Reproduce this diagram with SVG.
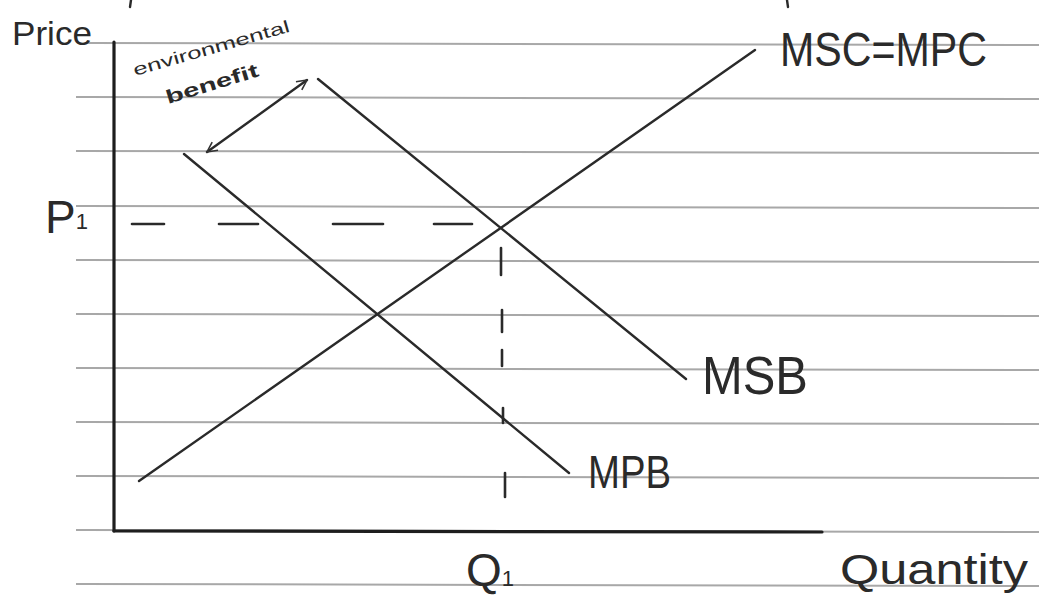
<svg xmlns="http://www.w3.org/2000/svg" width="1039" height="598" viewBox="0 0 1039 598">
<style>
.rule{stroke:#a8a8a8;stroke-width:2;fill:none}
.axis{stroke:#1e1e1e;stroke-width:3.2;fill:none;stroke-linecap:round}
.curve{stroke:#2a2a2a;stroke-width:2.4;fill:none;stroke-linecap:round}
.dash{stroke:#2a2a2a;stroke-width:2.6;fill:none;stroke-linecap:round}
.lbl{font-family:"Liberation Sans","DejaVu Sans",sans-serif;fill:#2a2a2a}
</style>
<defs>
<marker id="vh" viewBox="0 0 12 12" refX="11" refY="6" markerWidth="12" markerHeight="12" markerUnits="userSpaceOnUse" orient="auto-start-reverse">
<path d="M1,1 L11,6 L1,11" fill="none" stroke="#333" stroke-width="1.6"/>
</marker>
</defs>
<rect width="1039" height="598" fill="#ffffff"/>
<g id="paper">
<line class="rule" x1="86" y1="43" x2="1039" y2="45"/>
<line class="rule" x1="76" y1="97" x2="1039" y2="99"/>
<line class="rule" x1="76" y1="151" x2="1039" y2="153"/>
<line class="rule" x1="76" y1="206" x2="1039" y2="208"/>
<line class="rule" x1="76" y1="260" x2="1039" y2="262"/>
<line class="rule" x1="76" y1="314" x2="1039" y2="316"/>
<line class="rule" x1="76" y1="368" x2="1039" y2="370"/>
<line class="rule" x1="76" y1="422" x2="1039" y2="424"/>
<line class="rule" x1="76" y1="476" x2="1039" y2="478"/>
<line class="rule" x1="76" y1="530" x2="1039" y2="532"/>
<line class="rule" x1="76" y1="584" x2="1039" y2="586"/>
<line class="curve" x1="131" y1="0" x2="130" y2="7"/>
<line class="curve" x1="787" y1="0" x2="788" y2="7"/>
</g>
<g id="axes">
<line class="axis" x1="114" y1="42" x2="114" y2="531"/>
<line class="axis" x1="114" y1="531" x2="822" y2="532"/>
</g>
<g id="curve-msc">
<line class="curve" x1="139" y1="481" x2="755" y2="50"/>
</g>
<g id="curve-msb">
<line class="curve" x1="318" y1="79" x2="686" y2="379"/>
</g>
<g id="curve-mpb">
<line class="curve" x1="184" y1="154" x2="569" y2="473"/>
</g>
<g id="guides">
<line class="dash" x1="132" y1="224" x2="164" y2="224"/>
<line class="dash" x1="219" y1="224" x2="258" y2="224"/>
<line class="dash" x1="333" y1="224" x2="383" y2="224"/>
<line class="dash" x1="434" y1="224" x2="472" y2="224"/>
<line class="dash" x1="501" y1="248" x2="501" y2="275"/>
<line class="dash" x1="502" y1="310" x2="502" y2="332"/>
<line class="dash" x1="502" y1="350" x2="502" y2="366"/>
<line class="dash" x1="503" y1="408" x2="503" y2="423"/>
<line class="dash" x1="505" y1="473" x2="505" y2="497"/>
</g>
<g id="connectors">
<line class="curve" stroke-width="1.8" x1="207" y1="152" x2="307" y2="80" marker-start="url(#vh)" marker-end="url(#vh)"/>
</g>
<g id="label-price"><text class="lbl" x="12" y="45" font-size="33" textLength="80" lengthAdjust="spacingAndGlyphs">Price</text></g>
<g id="label-benefit">
<text class="lbl" font-size="17" transform="translate(135,76) rotate(-16)" textLength="162" lengthAdjust="spacingAndGlyphs">environmental</text>
<text class="lbl" font-size="19" font-weight="bold" transform="translate(168,104) rotate(-17)" textLength="96" lengthAdjust="spacingAndGlyphs">benefit</text>
</g>
<g id="label-msc"><text class="lbl" x="780" y="66" font-size="48" textLength="207" lengthAdjust="spacingAndGlyphs">MSC=MPC</text></g>
<g id="label-p1"><text class="lbl" x="45" y="233" font-size="46">P<tspan font-size="22" dy="-4">1</tspan></text></g>
<g id="label-msb"><text class="lbl" x="702" y="394" font-size="54" textLength="106" lengthAdjust="spacingAndGlyphs">MSB</text></g>
<g id="label-mpb"><text class="lbl" x="588" y="488" font-size="46" textLength="83" lengthAdjust="spacingAndGlyphs">MPB</text></g>
<g id="label-q1"><text class="lbl" x="466" y="586" font-size="46">Q<tspan font-size="22">1</tspan></text></g>
<g id="label-quantity"><text class="lbl" x="840" y="584" font-size="42" textLength="188" lengthAdjust="spacingAndGlyphs">Quantity</text></g>
</svg>
